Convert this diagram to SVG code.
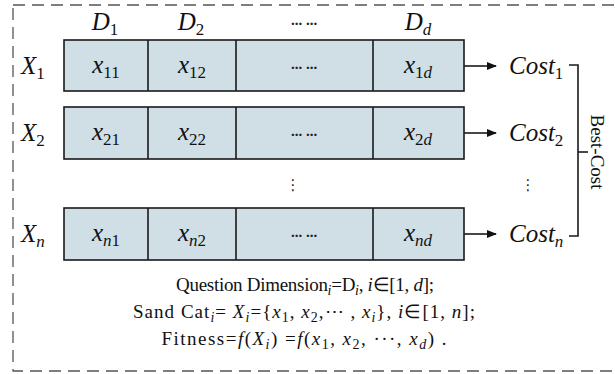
<svg xmlns="http://www.w3.org/2000/svg" width="615" height="374" viewBox="0 0 615 374">
<defs>
<style>
.m{font-family:"Liberation Serif","Times New Roman",serif;font-size:25px;font-style:italic;fill:#111}
.s{font-style:normal;font-size:17px}
.si{font-style:italic;font-size:17px}
.t{font-family:"Liberation Serif","Times New Roman",serif;font-size:19px;fill:#111}
.i{font-style:italic}
.cell{fill:#d0dee6;stroke:#1a1a1a;stroke-width:1.6}
.ln{stroke:#1a1a1a;stroke-width:1.6;fill:none}
.dots{font-family:"Liberation Serif",serif;font-size:15px;font-weight:bold;fill:#222}
.vd{font-family:"DejaVu Sans",sans-serif;font-size:15px;fill:#222}
</style>
<marker id="ah" markerWidth="10" markerHeight="8" refX="9" refY="4" orient="auto" markerUnits="userSpaceOnUse">
<path d="M0,0 L10,4 L0,8 Z" fill="#111"/>
</marker>
</defs>
<rect x="13" y="5" width="620" height="366" fill="none" stroke="#555" stroke-width="1.3" stroke-dasharray="12,7"/>

<g id="header">
<text class="m" x="105" y="30" text-anchor="middle">D<tspan class="s" dy="5">1</tspan></text>
<text class="m" x="191" y="30" text-anchor="middle">D<tspan class="s" dy="5">2</tspan></text>
<text class="dots" x="304" y="25" text-anchor="middle">... ...</text>
<text class="m" x="418" y="30" text-anchor="middle">D<tspan class="si" dy="5">d</tspan></text>
</g>

<g id="row1">
<text class="m" x="21" y="74">X<tspan class="s" dy="5">1</tspan></text>
<rect class="cell" x="64" y="40" width="400" height="51"/>
<line class="ln" x1="148" y1="40" x2="148" y2="91"/>
<line class="ln" x1="236" y1="40" x2="236" y2="91"/>
<line class="ln" x1="373" y1="40" x2="373" y2="91"/>
<text class="m" x="106" y="73" text-anchor="middle">x<tspan class="s" dy="5">11</tspan></text>
<text class="m" x="192" y="73" text-anchor="middle">x<tspan class="s" dy="5">12</tspan></text>
<text class="dots" x="304" y="69" text-anchor="middle">... ...</text>
<text class="m" x="418" y="73" text-anchor="middle">x<tspan class="s" dy="5">1</tspan><tspan class="si">d</tspan></text>
</g>

<g id="row2">
<text class="m" x="21" y="141">X<tspan class="s" dy="5">2</tspan></text>
<rect class="cell" x="64" y="107" width="400" height="52"/>
<line class="ln" x1="148" y1="107" x2="148" y2="159"/>
<line class="ln" x1="236" y1="107" x2="236" y2="159"/>
<line class="ln" x1="373" y1="107" x2="373" y2="159"/>
<text class="m" x="106" y="140" text-anchor="middle">x<tspan class="s" dy="5">21</tspan></text>
<text class="m" x="192" y="140" text-anchor="middle">x<tspan class="s" dy="5">22</tspan></text>
<text class="dots" x="304" y="136" text-anchor="middle">... ...</text>
<text class="m" x="418" y="140" text-anchor="middle">x<tspan class="s" dy="5">2</tspan><tspan class="si">d</tspan></text>
</g>

<g id="vdots">
<text class="vd" x="293" y="190" text-anchor="middle">⋮</text>
<text class="vd" x="528" y="190" text-anchor="middle">⋮</text>
</g>

<g id="rown">
<text class="m" x="21" y="242">X<tspan class="si" dy="5">n</tspan></text>
<rect class="cell" x="64" y="208" width="400" height="52"/>
<line class="ln" x1="148" y1="208" x2="148" y2="260"/>
<line class="ln" x1="236" y1="208" x2="236" y2="260"/>
<line class="ln" x1="373" y1="208" x2="373" y2="260"/>
<text class="m" x="106" y="241" text-anchor="middle">x<tspan class="si" dy="5">n</tspan><tspan class="s">1</tspan></text>
<text class="m" x="192" y="241" text-anchor="middle">x<tspan class="si" dy="5">n</tspan><tspan class="s">2</tspan></text>
<text class="dots" x="304" y="237" text-anchor="middle">... ...</text>
<text class="m" x="418" y="241" text-anchor="middle">x<tspan class="si" dy="5">nd</tspan></text>
</g>

<g id="costs">
<text class="m" x="509" y="74" font-size="24">Cost<tspan class="s" dy="5">1</tspan></text>
<text class="m" x="509" y="141" font-size="24">Cost<tspan class="s" dy="5">2</tspan></text>
<text class="m" x="509" y="242" font-size="24">Cost<tspan class="si" font-size="16" dy="5">n</tspan></text>
</g>

<g id="bestcost">
<text class="t" font-size="25" transform="translate(591,152) rotate(90)" text-anchor="middle">Best-Cost</text>
</g>

<g id="connectors">
<line class="ln" x1="464" y1="66" x2="496" y2="66" marker-end="url(#ah)"/>
<line class="ln" x1="464" y1="133" x2="496" y2="133" marker-end="url(#ah)"/>
<line class="ln" x1="464" y1="234" x2="496" y2="234" marker-end="url(#ah)"/>
<polyline class="ln" points="569,65 578,65 578,236 569,236"/>
<line class="ln" x1="578" y1="152" x2="588" y2="152"/>
</g>

<g id="formulas">
<text class="t" x="305" y="291" text-anchor="middle" textLength="258" lengthAdjust="spacing">Question Dimension<tspan class="i" font-size="14" dy="4">i</tspan><tspan dy="-4">=D</tspan><tspan class="i" font-size="14" dy="4">i</tspan><tspan dy="-4">, </tspan><tspan class="i">i</tspan>∈[1, <tspan class="i">d</tspan>];</text>
<text class="t" x="304" y="318" text-anchor="middle" textLength="342" lengthAdjust="spacing">Sand Cat<tspan class="i" font-size="14" dy="4">i</tspan><tspan dy="-4">= </tspan><tspan class="i">X</tspan><tspan class="i" font-size="14" dy="4">i</tspan><tspan dy="-4">={</tspan><tspan class="i">x</tspan><tspan font-size="14" dy="4">1</tspan><tspan dy="-4">, </tspan><tspan class="i">x</tspan><tspan font-size="14" dy="4">2</tspan><tspan dy="-4">,⋯ , </tspan><tspan class="i">x</tspan><tspan class="i" font-size="14" dy="4">i</tspan><tspan dy="-4">}, </tspan><tspan class="i">i</tspan>∈[1, <tspan class="i">n</tspan>];</text>
<text class="t" x="304" y="345" text-anchor="middle" textLength="285" lengthAdjust="spacing">Fitness=<tspan class="i">f</tspan>(<tspan class="i">X</tspan><tspan class="i" font-size="14" dy="4">i</tspan><tspan dy="-4">) =</tspan><tspan class="i">f</tspan>(<tspan class="i">x</tspan><tspan font-size="14" dy="4">1</tspan><tspan dy="-4">, </tspan><tspan class="i">x</tspan><tspan font-size="14" dy="4">2</tspan><tspan dy="-4">, ···, </tspan><tspan class="i">x</tspan><tspan class="i" font-size="14" dy="4">d</tspan><tspan dy="-4">) .</tspan></text>
</g>
</svg>
